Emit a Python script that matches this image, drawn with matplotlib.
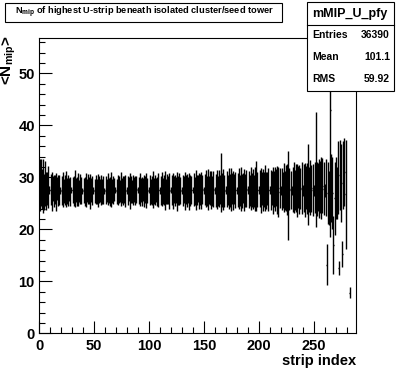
import numpy as np
import matplotlib
matplotlib.use("Agg")
import matplotlib.pyplot as plt
from matplotlib.patches import Rectangle
from matplotlib.ticker import MultipleLocator

plt.rcParams['font.family'] = ['Liberation Sans', 'DejaVu Sans']
plt.rcParams['font.weight'] = 'bold'
plt.rcParams['axes.labelweight'] = 'bold'
plt.rcParams['mathtext.fontset'] = 'custom'
plt.rcParams['mathtext.default'] = 'bf'
plt.rcParams['mathtext.bf'] = 'Liberation Sans:bold'
plt.rcParams['mathtext.rm'] = 'Liberation Sans:bold'

nan = np.nan

# mean N_mip per strip (one row = 10 strips)
mean_nmip = [
    28.6, 29.0, 27.8, 28.4, 27.2, 28.8, 27.4, 27.9, 28.1, 27.5,
    27.6, 27.3, 27.9, 27.4, 27.7, 27.2, 27.8, 27.5, 27.6, 27.5,
    27.4, 27.7, 27.3, 27.6, 27.8, 27.4, 27.5, 27.7, 27.3, 27.5,
    27.6, 27.4, 27.8, 27.5, 27.3, 27.6, 27.4, 27.7, 27.5, 27.4,
    27.5, 27.3, 27.6, 27.4, 27.7, 27.5, 27.3, 27.6, 27.4, 27.5,
    27.4, 27.6, 27.3, 27.5, 27.7, 27.4, 27.6, 27.3, 27.5, 27.4,
    27.6, 27.4, 27.7, 27.5, 27.3, 27.6, 27.4, 27.5, 27.7, 27.5,
    27.3, 27.5, 27.6, 27.4, 27.7, 27.5, 27.4, 27.6, 27.3, 27.5,
    27.5, 27.7, 27.4, 27.6, 27.3, 27.5, 27.6, 27.4, 27.7, 27.5,
    27.4, 27.6, 27.5, 27.3, 27.7, 27.4, 27.6, 27.5, 27.4, 27.5,
    27.6, 27.3, 27.5, 27.7, 27.4, 27.6, 27.5, 27.3, 27.6, 27.5,
    27.5, 27.7, 27.4, 27.6, 27.5, 27.3, 27.7, 27.5, 27.4, 27.5,
    27.6, 27.4, 27.7, 27.5, 27.6, 27.3, 27.5, 27.7, 27.4, 27.5,
    27.5, 27.6, 27.4, 27.7, 27.5, 27.6, 27.3, 27.5, 27.6, 27.5,
    27.7, 27.4, 27.6, 27.5, 27.8, 27.4, 27.6, 27.5, 27.7, 27.5,
    27.6, 27.8, 27.4, 27.7, 27.5, 27.9, 27.6, 27.4, 27.7, 27.5,
    27.5, 27.7, 27.4, 27.8, 27.6, 29.0, 27.5, 27.7, 27.4, 27.5,
    27.7, 27.5, 27.8, 27.4, 27.6, 27.9, 27.5, 27.7, 27.6, 27.5,
    27.6, 27.8, 27.5, 27.7, 27.4, 27.9, 27.6, 27.5, 27.8, 27.5,
    27.7, 27.5, 27.9, 27.6, 27.8, 27.4, 27.7, 28.4, 27.6, 27.5,
    27.8, 27.5, 27.9, 27.6, 27.7, 28.0, 27.5, 27.8, 27.6, 27.5,
    27.6, 27.9, 27.5, 27.8, 27.7, 28.0, 27.6, 27.2, 27.9, 27.5,
    27.8, 27.6, 28.0, 27.5, 27.9, 27.7, 26.5, 27.8, 27.6, 27.5,
    27.7, 28.0, 27.6, 27.9, 27.5, 28.1, 27.7, 27.8, 28.0, 27.5,
    27.9, 27.6, 28.1, 27.8, 28.6, 27.7, 28.0, 27.9, 27.6, 27.5,
    28.0, 31.5, 27.8, 28.2, 27.9, 28.1, 28.0, 28.4, 27.8, 27.5,
    28.0, 13.2, 27.0, 26.0, 42.9, 28.0, 27.0, 17.0, 26.0, 28.0,
    27.0, 30.0, 12.6, 30.5, 29.0, 15.3, 30.5, 31.0, 26.7, nan,
    nan, nan, 7.8, nan, nan, nan, nan, nan,
]

# error on the mean per strip
err_nmip = [
    5.0, 4.6, 3.8, 5.2, 3.4, 4.4, 3.6, 3.2, 4.0, 0.8,
    3.0, 3.8, 2.4, 3.1, 2.8, 3.6, 2.2, 3.0, 2.9, 0.7,
    2.8, 3.4, 2.3, 2.9, 3.5, 2.5, 3.0, 2.2, 2.8, 0.6,
    2.5, 2.9, 3.6, 2.3, 2.8, 3.2, 2.1, 2.9, 2.6, 0.6,
    2.4, 2.8, 3.3, 2.2, 2.9, 2.6, 3.4, 2.3, 2.8, 0.7,
    2.3, 2.8, 2.4, 3.2, 2.6, 2.2, 2.9, 2.4, 2.7, 0.6,
    2.7, 2.2, 3.1, 2.4, 2.8, 3.4, 2.3, 2.7, 2.2, 0.6,
    2.4, 2.9, 2.6, 2.1, 3.3, 2.4, 2.8, 2.6, 3.1, 0.7,
    2.8, 2.3, 3.5, 2.6, 2.2, 2.9, 2.4, 2.8, 2.6, 0.6,
    2.6, 3.2, 2.3, 2.8, 2.2, 3.1, 2.6, 3.4, 2.4, 0.6,
    2.9, 2.4, 2.8, 3.6, 2.5, 2.9, 2.3, 2.8, 3.3, 0.7,
    2.8, 3.3, 2.5, 2.9, 3.7, 2.4, 2.9, 2.7, 3.4, 0.6,
    2.9, 3.5, 2.6, 3.0, 2.5, 3.8, 2.8, 3.1, 2.6, 0.7,
    3.0, 2.6, 3.6, 2.8, 3.2, 2.5, 3.5, 3.0, 2.7, 0.6,
    3.2, 2.7, 3.8, 2.9, 2.6, 3.4, 3.0, 3.6, 2.8, 0.7,
    3.0, 3.6, 2.9, 3.9, 2.7, 3.3, 3.7, 2.9, 3.5, 0.7,
    3.2, 3.8, 2.9, 3.6, 2.8, 5.6, 3.3, 3.9, 3.1, 0.8,
    3.5, 2.9, 3.9, 3.2, 4.1, 3.0, 3.7, 2.9, 3.5, 0.7,
    3.3, 3.9, 3.0, 4.2, 3.3, 2.9, 4.0, 3.2, 3.6, 0.8,
    3.6, 3.0, 4.1, 3.3, 3.8, 3.1, 4.2, 4.8, 3.4, 0.8,
    3.6, 4.3, 3.2, 4.0, 3.4, 4.4, 3.6, 3.2, 4.1, 0.8,
    3.9, 3.3, 4.5, 3.5, 4.2, 3.6, 4.6, 4.8, 3.8, 0.9,
    4.0, 3.5, 4.7, 3.8, 4.4, 4.9, 8.5, 4.0, 3.7, 0.9,
    4.3, 4.9, 3.8, 4.6, 5.1, 4.0, 4.7, 3.9, 5.0, 1.0,
    4.6, 5.2, 4.1, 4.9, 7.8, 4.3, 5.3, 4.5, 5.0, 1.0,
    4.9, 11.1, 5.2, 4.6, 5.7, 5.0, 6.0, 5.3, 5.1, 1.2,
    5.5, 4.0, 6.0, 5.2, 24.4, 6.5, 7.0, 5.5, 7.0, 6.0,
    5.0, 7.0, 1.4, 6.7, 7.5, 2.5, 6.5, 6.5, 10.4, nan,
    nan, nan, 1.1, nan, nan, nan, nan, nan,
]

hist_name = "mMIP_U_pfy"
stat_names = ["Entries", "Mean", "RMS"]
stat_values = ["36390", "101.1", "59.92"]

strip = np.arange(len(mean_nmip)) + 0.5
mean_nmip = np.array(mean_nmip)
err_nmip = np.array(err_nmip)

fig = plt.figure(figsize=(3.96, 3.72), dpi=100)
W, H = 396, 372
ax = fig.add_axes([39 / W, 1 - 333.3 / H, (356 - 39) / W, (333.3 - 38) / H])

ax.errorbar(strip, mean_nmip, yerr=err_nmip, xerr=0.5, fmt='none',
            ecolor='black', elinewidth=1.0, capsize=0)

ax.set_xlim(0, 288)
ax.set_ylim(0, 56.8)
ax.xaxis.set_major_locator(MultipleLocator(50))
ax.xaxis.set_minor_locator(MultipleLocator(10))
ax.yaxis.set_major_locator(MultipleLocator(10))
ax.yaxis.set_minor_locator(MultipleLocator(2))
ax.tick_params(which='both', direction='in', top=False, right=False,
               labelsize=10.5, width=0.8)
ax.tick_params(axis='x', which='major', length=9, pad=4)
ax.tick_params(axis='x', which='minor', length=4.5)
ax.tick_params(axis='y', which='major', length=9, pad=3)
ax.tick_params(axis='y', which='minor', length=4.5)
for s in ax.spines.values():
    s.set_linewidth(0.8)

ax.set_xlabel("strip index", loc='right', fontsize=10.5, fontweight='bold', labelpad=1)
ax.set_ylabel(r"<$N_{mip}$>", fontsize=11, fontweight='bold', ha='right', va='center')
ax.yaxis.set_label_coords(-0.095, 1.01)

# title box
fig.patches.append(Rectangle((5 / W, 1 - 22 / H), 277 / W, 19 / H,
                             transform=fig.transFigure, fill=True,
                             facecolor='white', edgecolor='black', lw=0.8))
fig.text(15 / W, 1 - 12.5 / H,
         r"$N_{mip}$ of highest U-strip beneath isolated cluster/seed tower",
         fontsize=6.7, va='center', ha='left')

# stats box
bx0, bx1, by0, by1 = 306.5, 394, 2, 90.5
fig.patches.append(Rectangle((bx0 / W, 1 - by1 / H), (bx1 - bx0) / W, (by1 - by0) / H,
                             transform=fig.transFigure, facecolor='white',
                             edgecolor='black', lw=0.8, zorder=5))
fig.lines.append(plt.Line2D([bx0 / W, bx1 / W], [1 - 25 / H, 1 - 25 / H],
                            transform=fig.transFigure, color='black', lw=0.8, zorder=6))
fig.text((bx0 + bx1) / 2 / W, 1 - 14 / H, hist_name, fontsize=9,
         ha='center', va='center', zorder=7)
for i, (nm, val) in enumerate(zip(stat_names, stat_values)):
    yy = 1 - (35 + 22 * i) / H
    fig.text(312 / W, yy, nm, fontsize=7.5, ha='left', va='center', zorder=7)
    fig.text(390 / W, yy, val, fontsize=7.5, ha='right', va='center', zorder=7)

fig.savefig("out.png", dpi=100)
